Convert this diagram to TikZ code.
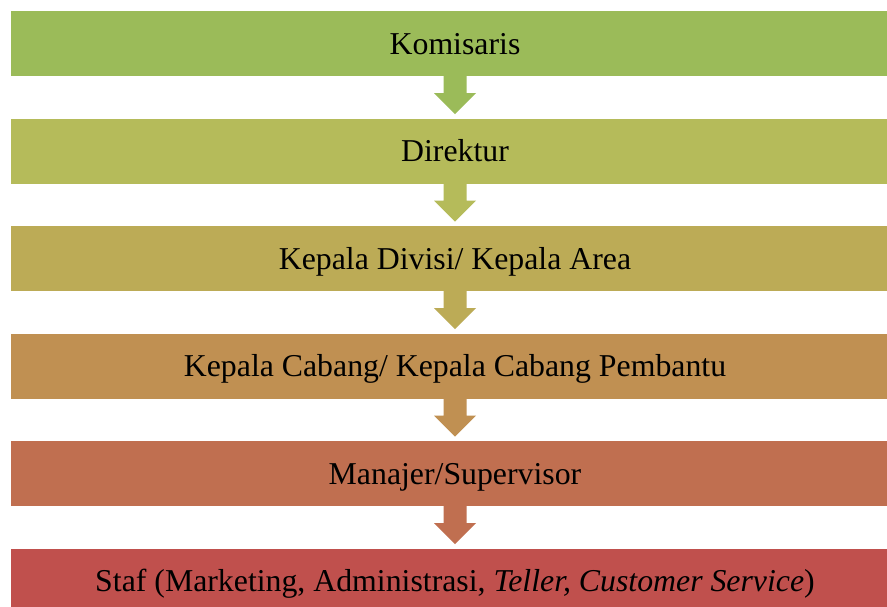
\documentclass[tikz,border=0pt]{standalone}
\usepackage{fontspec}
\setmainfont{Liberation Serif}
\usetikzlibrary{calc}
\definecolor{c1}{RGB}{155,187,89}
\definecolor{c2}{RGB}{181,187,90}
\definecolor{c3}{RGB}{188,171,86}
\definecolor{c4}{RGB}{192,144,82}
\definecolor{c5}{RGB}{192,111,80}
\definecolor{c6}{RGB}{192,80,77}
\begin{document}
\begin{tikzpicture}[x=1pt,y=-1pt,
  box/.style={minimum width=888pt, minimum height=65pt, inner sep=0pt, outer sep=0pt,
    text height=25pt, text depth=4pt,
    font=\fontsize{31.8}{36}\selectfont, text=black}]
\useasboundingbox (0,0) rectangle (887,606);
\fill[white] (0,0) rectangle (887,606);
\clip (0,0) rectangle (887,606);
\node[box, fill=c1] (b1) at (455,43.5) {Komisaris};
\node[box, fill=c2] (b2) at (455,151) {Direktur};
\node[box, fill=c3] (b3) at (455,258.5) {Kepala Divisi/ Kepala Area};
\node[box, fill=c4] (b4) at (455,366) {Kepala Cabang/ Kepala Cabang Pembantu};
\node[box, fill=c5] (b5) at (455,473.5) {Manajer/Supervisor};
\node[box, fill=c6] (b6) at (455,581) {Staf (Marketing, Administrasi, \textit{Teller, Customer Service})};
\foreach \i/\c in {1/c1,2/c2,3/c3,4/c4,5/c5}{
  \fill[\c] ($(b\i.south)+(-11.5,-1)$) -- ($(b\i.south)+(-11.5,17)$) -- ($(b\i.south)+(-21,17)$)
    -- ($(b\i.south)+(0,38)$) -- ($(b\i.south)+(21,17)$) -- ($(b\i.south)+(11.5,17)$)
    -- ($(b\i.south)+(11.5,-1)$) -- cycle;
}
\end{tikzpicture}
\end{document}
